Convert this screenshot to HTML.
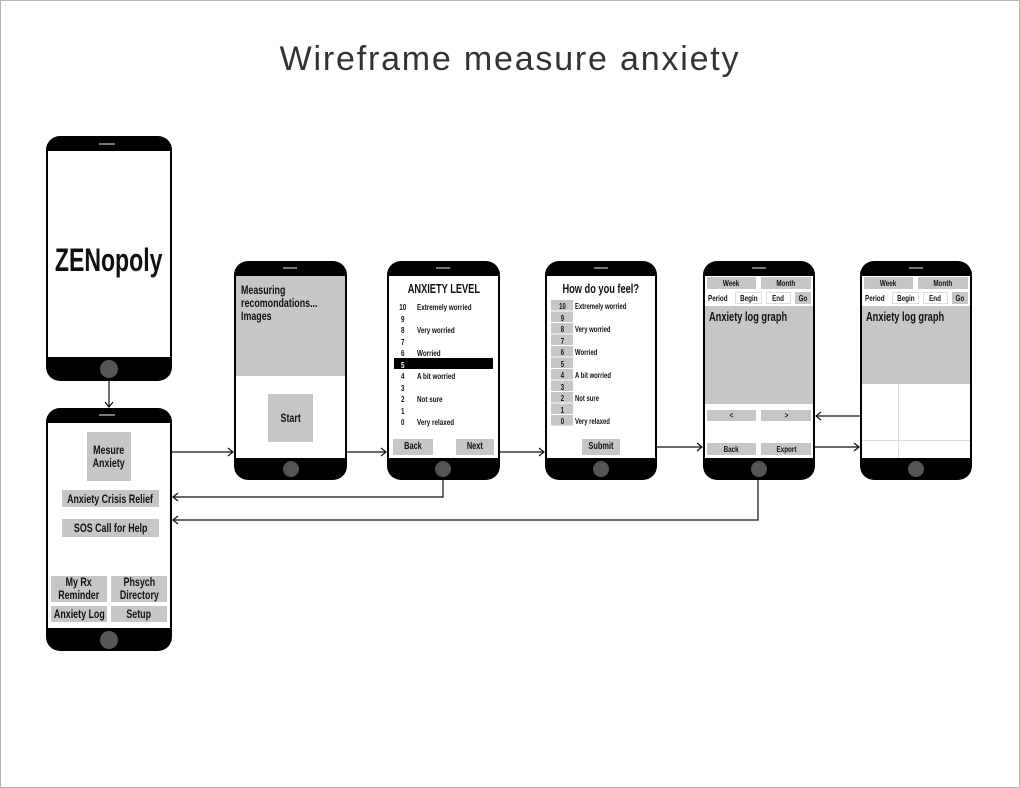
<!DOCTYPE html>
<html><head><meta charset="utf-8"><style>
*{margin:0;padding:0;box-sizing:border-box}
body{width:1020px;height:788px;background:#fff;position:relative;overflow:hidden;font-family:"Liberation Sans",sans-serif}
#frame{position:absolute;left:0;top:0;width:1020px;height:788px;border:1px solid #b5b5b5}
.a{position:absolute}
.ph{position:absolute;background:#000;border-radius:14px}
.scr{position:absolute;background:#fff}
.home{position:absolute;background:#555;border-radius:50%}
.spk{position:absolute;height:2px;background:#777}
.g{position:absolute;background:#c6c6c8}
.t{position:absolute;font-weight:bold;color:#111;white-space:nowrap;line-height:1}
.c{display:flex;align-items:center;justify-content:center;text-align:center}
.s{font-size:8.5px}
.n{display:inline-block;transform:scaleX(.74);transform-origin:center}
.L{transform:scaleX(.74);transform-origin:left top}
</style></head><body>
<div id="frame"></div>
<div class="a" style="left:0;top:40px;width:1020px;text-align:center;font-size:34px;color:#333;letter-spacing:1.8px">Wireframe measure anxiety</div>

<!-- phone 1 -->
<div class="ph" style="left:46px;top:136px;width:126px;height:245px"></div>
<div class="scr" style="left:48px;top:151px;width:122px;height:206px"></div>
<div class="spk" style="left:99px;top:143px;width:16px"></div>
<div class="home" style="left:100px;top:360px;width:18px;height:18px"></div>
<div class="t c" style="left:46px;top:242px;width:126px;height:36px;font-size:32px"><span class="n" style="transform:scaleX(.72)">ZENopoly</span></div>

<!-- phone 2 menu -->
<div class="ph" style="left:46px;top:408px;width:126px;height:243px"></div>
<div class="scr" style="left:48px;top:423px;width:122px;height:205px"></div>
<div class="spk" style="left:99px;top:414px;width:16px"></div>
<div class="home" style="left:100px;top:631px;width:18px;height:18px"></div>
<div class="g t c" style="left:87px;top:432px;width:44px;height:49px;font-size:12px;line-height:13px"><span class="n">Mesure<br>Anxiety</span></div>
<div class="g t c" style="left:62px;top:490px;width:97px;height:17px;font-size:12px"><span class="n">Anxiety Crisis Relief</span></div>
<div class="g t c" style="left:62px;top:519px;width:97px;height:18px;font-size:12px"><span class="n">SOS Call for Help</span></div>
<div class="g t c" style="left:51px;top:576px;width:56px;height:26px;font-size:12px;line-height:13px"><span class="n">My Rx<br>Reminder</span></div>
<div class="g t c" style="left:111px;top:576px;width:56px;height:26px;font-size:12px;line-height:13px"><span class="n">Phsych<br>Directory</span></div>
<div class="g t c" style="left:51px;top:606px;width:56px;height:16px;font-size:12px"><span class="n">Anxiety Log</span></div>
<div class="g t c" style="left:111px;top:606px;width:56px;height:16px;font-size:12px"><span class="n">Setup</span></div>

<!-- phone 3 -->
<div class="ph" style="left:234px;top:261px;width:113px;height:219px"></div>
<div class="scr" style="left:236px;top:276px;width:109px;height:182px"></div>
<div class="spk" style="left:283px;top:267px;width:14px"></div>
<div class="home" style="left:283px;top:461px;width:16px;height:16px"></div>
<div class="g" style="left:236px;top:276px;width:109px;height:100px"></div>
<div class="t L" style="left:241px;top:284px;font-size:12px;line-height:13px">Measuring<br>recomondations...<br>Images</div>
<div class="g t c" style="left:268px;top:394px;width:45px;height:48px;font-size:12px"><span class="n">Start</span></div>

<!-- phone 4 -->
<div class="ph" style="left:387px;top:261px;width:113px;height:219px"></div>
<div class="scr" style="left:389px;top:276px;width:109px;height:182px"></div>
<div class="spk" style="left:436px;top:267px;width:14px"></div>
<div class="home" style="left:435px;top:461px;width:16px;height:16px"></div>
<div class="t c" style="left:387px;top:283px;width:113px;height:13px;font-size:12.5px"><span class="n">ANXIETY LEVEL</span></div>
<div class="a" style="left:394px;top:358px;width:99px;height:11px;background:#000"></div>
<div class="t s" style="left:398px;top:302px;line-height:11.55px;width:10px;text-align:center"><span class="n">10<br>9<br>8<br>7<br>6<br><span style="color:#fff">5</span><br>4<br>3<br>2<br>1<br>0</span></div>
<div class="t s L" style="left:417px;top:302px;line-height:11.55px">Extremely worried<br>&nbsp;<br>Very worried<br>&nbsp;<br>Worried<br>&nbsp;<br>A bit worried<br>&nbsp;<br>Not sure<br>&nbsp;<br>Very relaxed</div>
<div class="g t c" style="left:393px;top:439px;width:40px;height:16px;font-size:10px"><span class="n">Back</span></div>
<div class="g t c" style="left:456px;top:439px;width:38px;height:16px;font-size:10px"><span class="n">Next</span></div>

<!-- phone 5 -->
<div class="ph" style="left:545px;top:261px;width:112px;height:219px"></div>
<div class="scr" style="left:547px;top:276px;width:108px;height:182px"></div>
<div class="spk" style="left:594px;top:267px;width:14px"></div>
<div class="home" style="left:593px;top:461px;width:16px;height:16px"></div>
<div class="t c" style="left:545px;top:283px;width:112px;height:13px;font-size:12.5px"><span class="n">How do you feel?</span></div>
<div class="a" style="left:551px;top:300px;width:22px;height:126px;background:repeating-linear-gradient(#c6c6c8 0 10.5px,#fff 10.5px 11.5px)"></div>
<div class="t" style="left:551px;top:301px;width:22px;text-align:center;font-size:8px;line-height:11.5px"><span class="n">10<br>9<br>8<br>7<br>6<br>5<br>4<br>3<br>2<br>1<br>0</span></div>
<div class="t L" style="left:575px;top:301px;font-size:8px;line-height:11.5px">Extremely worried<br>&nbsp;<br>Very worried<br>&nbsp;<br>Worried<br>&nbsp;<br>A bit worried<br>&nbsp;<br>Not sure<br>&nbsp;<br>Very relaxed</div>
<div class="g t c" style="left:582px;top:439px;width:38px;height:16px;font-size:10px"><span class="n">Submit</span></div>

<!-- phone 6 -->
<div class="ph" style="left:703px;top:261px;width:112px;height:219px"></div>
<div class="scr" style="left:705px;top:276px;width:108px;height:182px"></div>
<div class="spk" style="left:752px;top:267px;width:14px"></div>
<div class="home" style="left:751px;top:461px;width:16px;height:16px"></div>
<div class="g t c s" style="left:707px;top:277px;width:49px;height:12px"><span class="n">Week</span></div>
<div class="g t c s" style="left:761px;top:277px;width:50px;height:12px"><span class="n">Month</span></div>
<div class="t s L" style="left:708px;top:294px">Period</div>
<div class="t c s" style="left:735px;top:292px;width:27px;height:12px;border:1px solid #ddd"><span class="n">Begin</span></div>
<div class="t c s" style="left:766px;top:292px;width:25px;height:12px;border:1px solid #ddd"><span class="n">End</span></div>
<div class="g t c s" style="left:795px;top:292px;width:16px;height:12px"><span class="n">Go</span></div>
<div class="g" style="left:705px;top:306px;width:108px;height:98px"></div>
<div class="t L" style="left:709px;top:311px;font-size:12.5px">Anxiety log graph</div>
<div class="g t c s" style="left:707px;top:410px;width:49px;height:11px"><span class="n">&lt;</span></div>
<div class="g t c s" style="left:761px;top:410px;width:50px;height:11px"><span class="n">&gt;</span></div>
<div class="g t c s" style="left:707px;top:443px;width:49px;height:12px"><span class="n">Back</span></div>
<div class="g t c s" style="left:761px;top:443px;width:50px;height:12px"><span class="n">Export</span></div>

<!-- phone 7 -->
<div class="ph" style="left:860px;top:261px;width:112px;height:219px"></div>
<div class="scr" style="left:862px;top:276px;width:108px;height:182px"></div>
<div class="spk" style="left:909px;top:267px;width:14px"></div>
<div class="home" style="left:908px;top:461px;width:16px;height:16px"></div>
<div class="g t c s" style="left:864px;top:277px;width:49px;height:12px"><span class="n">Week</span></div>
<div class="g t c s" style="left:918px;top:277px;width:50px;height:12px"><span class="n">Month</span></div>
<div class="t s L" style="left:865px;top:294px">Period</div>
<div class="t c s" style="left:892px;top:292px;width:27px;height:12px;border:1px solid #ddd"><span class="n">Begin</span></div>
<div class="t c s" style="left:923px;top:292px;width:25px;height:12px;border:1px solid #ddd"><span class="n">End</span></div>
<div class="g t c s" style="left:952px;top:292px;width:16px;height:12px"><span class="n">Go</span></div>
<div class="g" style="left:862px;top:306px;width:108px;height:78px"></div>
<div class="t L" style="left:866px;top:311px;font-size:12.5px">Anxiety log graph</div>
<div class="a" style="left:898px;top:384px;width:1px;height:74px;background:#ddd"></div>
<div class="a" style="left:862px;top:440px;width:108px;height:1px;background:#ddd"></div>

<svg class="a" style="left:0;top:0" width="1020" height="788" fill="none" stroke="#111" stroke-width="1.2">
<path d="M109 381V407M105 402L109 407L113 402"/>
<path d="M172 452H233M228 448L233 452L228 456"/>
<path d="M347 452H386M381 448L386 452L381 456"/>
<path d="M500 452H544M539 448L544 452L539 456"/>
<path d="M657 447H702M697 443L702 447L697 451"/>
<path d="M815 447H859M854 443L859 447L854 451"/>
<path d="M860 416H816M821 412L816 416L821 420"/>
<path d="M443 480V497H173M178 493L173 497L178 501"/>
<path d="M758 480V520H173M178 516L173 520L178 524"/>
</svg>
</body></html>
